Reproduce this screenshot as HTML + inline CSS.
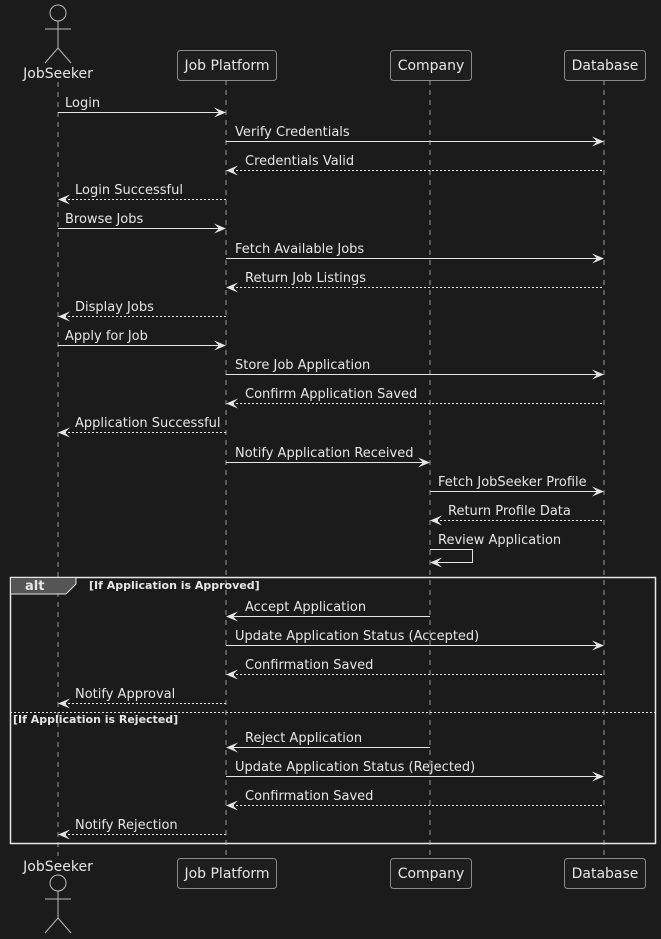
<!DOCTYPE html>
<html><head><meta charset="utf-8"><style>
html,body{margin:0;padding:0;background:#1b1b1b;}
svg{display:block;}
text{font-family:"DejaVu Sans","Liberation Sans",sans-serif;fill:#e6e6e6;}
</style></head><body>
<svg width="661" height="939" viewBox="0 0 661 939" xmlns="http://www.w3.org/2000/svg">
<rect width="661" height="939" fill="#1b1b1b"/>
<g stroke="#9a9a9a" stroke-width="1" stroke-dasharray="5,5">
<line x1="58" y1="82" x2="58" y2="856"/>
<line x1="226" y1="80" x2="226" y2="858"/>
<line x1="430" y1="80" x2="430" y2="858"/>
<line x1="604" y1="80" x2="604" y2="858"/>
</g>
<g stroke="#bbbbbb" stroke-width="1" fill="none">
<circle cx="58" cy="13" r="8"/><line x1="58" y1="21" x2="58" y2="48"/><line x1="45" y1="29" x2="71" y2="29"/><polyline points="45,63 58,48 71,63"/>
<circle cx="58" cy="883" r="8"/><line x1="58" y1="891" x2="58" y2="918"/><line x1="45" y1="899" x2="71" y2="899"/><polyline points="45,933 58,918 71,933"/>
</g>
<g font-size="14">
<text x="58" y="78" text-anchor="middle">JobSeeker</text>
<text x="58" y="871" text-anchor="middle">JobSeeker</text>
</g>
<g fill="#1e1e1e" stroke="#8a8a8a" stroke-width="1">
<rect x="177.5" y="50.5" width="99" height="30" rx="3"/>
<rect x="390.5" y="50.5" width="81" height="30" rx="3"/>
<rect x="564.5" y="50.5" width="81" height="30" rx="3"/>
<rect x="177.5" y="858.5" width="99" height="30" rx="3"/>
<rect x="390.5" y="858.5" width="81" height="30" rx="3"/>
<rect x="564.5" y="858.5" width="81" height="30" rx="3"/>
</g>
<g font-size="14" text-anchor="middle">
<text x="227" y="70">Job Platform</text><text x="431" y="70">Company</text><text x="605" y="70">Database</text>
<text x="227" y="878">Job Platform</text><text x="431" y="878">Company</text><text x="605" y="878">Database</text>
</g>
<rect x="10.5" y="577.5" width="645" height="266" fill="none" stroke="#e6e6e6" stroke-width="1.5"/>
<polygon points="10.5,577.5 76,577.5 76,584 66,594 10.5,594" fill="#555" stroke="#e6e6e6" stroke-width="1"/>
<text x="25" y="590" font-size="13" font-weight="bold">alt</text>
<text x="89" y="589" font-size="11" font-weight="bold">[If Application is Approved]</text>
<line x1="10" y1="712.5" x2="656" y2="712.5" stroke="#e6e6e6" stroke-width="1" stroke-dasharray="2,2"/>
<text x="13" y="723" font-size="11" font-weight="bold">[If Application is Rejected]</text>
<g stroke="#e6e6e6" stroke-width="1" fill="none">
<line x1="58" y1="112.5" x2="224" y2="112.5"/>
<line x1="226" y1="141.5" x2="602" y2="141.5"/>
<line x1="228" y1="170.5" x2="604" y2="170.5" stroke-dasharray="2,2"/>
<line x1="60" y1="199.5" x2="226" y2="199.5" stroke-dasharray="2,2"/>
<line x1="58" y1="228.5" x2="224" y2="228.5"/>
<line x1="226" y1="258.5" x2="602" y2="258.5"/>
<line x1="228" y1="287.5" x2="604" y2="287.5" stroke-dasharray="2,2"/>
<line x1="60" y1="316.5" x2="226" y2="316.5" stroke-dasharray="2,2"/>
<line x1="58" y1="345.5" x2="224" y2="345.5"/>
<line x1="226" y1="374.5" x2="602" y2="374.5"/>
<line x1="228" y1="403.5" x2="604" y2="403.5" stroke-dasharray="2,2"/>
<line x1="60" y1="432.5" x2="226" y2="432.5" stroke-dasharray="2,2"/>
<line x1="226" y1="462.5" x2="428" y2="462.5"/>
<line x1="430" y1="491.5" x2="602" y2="491.5"/>
<line x1="432" y1="520.5" x2="604" y2="520.5" stroke-dasharray="2,2"/>
<polyline points="430,549.5 472.5,549.5 472.5,562.5 432,562.5"/>
<line x1="228" y1="616.5" x2="430" y2="616.5"/>
<line x1="226" y1="645.5" x2="602" y2="645.5"/>
<line x1="228" y1="674.5" x2="604" y2="674.5" stroke-dasharray="2,2"/>
<line x1="60" y1="703.5" x2="226" y2="703.5" stroke-dasharray="2,2"/>
<line x1="228" y1="747.5" x2="430" y2="747.5"/>
<line x1="226" y1="776.5" x2="602" y2="776.5"/>
<line x1="228" y1="805.5" x2="604" y2="805.5" stroke-dasharray="2,2"/>
<line x1="60" y1="834.5" x2="226" y2="834.5" stroke-dasharray="2,2"/>
</g>
<g fill="#e6e6e6">
<polygon points="226,112.5 214,107.5 219,112.5 214,117.5"/>
<polygon points="604,141.5 592,136.5 597,141.5 592,146.5"/>
<polygon points="226,228.5 214,223.5 219,228.5 214,233.5"/>
<polygon points="604,258.5 592,253.5 597,258.5 592,263.5"/>
<polygon points="226,345.5 214,340.5 219,345.5 214,350.5"/>
<polygon points="604,374.5 592,369.5 597,374.5 592,379.5"/>
<polygon points="430,462.5 418,457.5 423,462.5 418,467.5"/>
<polygon points="604,491.5 592,486.5 597,491.5 592,496.5"/>
<polygon points="604,645.5 592,640.5 597,645.5 592,650.5"/>
<polygon points="604,776.5 592,771.5 597,776.5 592,781.5"/>
<polygon points="226,170.5 238,165.5 233,170.5 238,175.5"/>
<polygon points="58,199.5 70,194.5 65,199.5 70,204.5"/>
<polygon points="226,287.5 238,282.5 233,287.5 238,292.5"/>
<polygon points="58,316.5 70,311.5 65,316.5 70,321.5"/>
<polygon points="226,403.5 238,398.5 233,403.5 238,408.5"/>
<polygon points="58,432.5 70,427.5 65,432.5 70,437.5"/>
<polygon points="430,520.5 442,515.5 437,520.5 442,525.5"/>
<polygon points="430,562.5 442,557.5 437,562.5 442,567.5"/>
<polygon points="226,616.5 238,611.5 233,616.5 238,621.5"/>
<polygon points="226,674.5 238,669.5 233,674.5 238,679.5"/>
<polygon points="58,703.5 70,698.5 65,703.5 70,708.5"/>
<polygon points="226,747.5 238,742.5 233,747.5 238,752.5"/>
<polygon points="226,805.5 238,800.5 233,805.5 238,810.5"/>
<polygon points="58,834.5 70,829.5 65,834.5 70,839.5"/>
</g>
<g font-size="13">
<text x="65" y="107">Login</text>
<text x="235" y="136">Verify Credentials</text>
<text x="245" y="165">Credentials Valid</text>
<text x="75" y="194">Login Successful</text>
<text x="65" y="223">Browse Jobs</text>
<text x="235" y="253">Fetch Available Jobs</text>
<text x="245" y="282">Return Job Listings</text>
<text x="75" y="311">Display Jobs</text>
<text x="65" y="340">Apply for Job</text>
<text x="235" y="369">Store Job Application</text>
<text x="245" y="398">Confirm Application Saved</text>
<text x="75" y="427">Application Successful</text>
<text x="235" y="457">Notify Application Received</text>
<text x="438" y="486">Fetch JobSeeker Profile</text>
<text x="448" y="515">Return Profile Data</text>
<text x="438" y="544">Review Application</text>
<text x="245" y="611">Accept Application</text>
<text x="235" y="640">Update Application Status (Accepted)</text>
<text x="245" y="669">Confirmation Saved</text>
<text x="75" y="698">Notify Approval</text>
<text x="245" y="742">Reject Application</text>
<text x="235" y="771">Update Application Status (Rejected)</text>
<text x="245" y="800">Confirmation Saved</text>
<text x="75" y="829">Notify Rejection</text>
</g>
</svg>
</body></html>
